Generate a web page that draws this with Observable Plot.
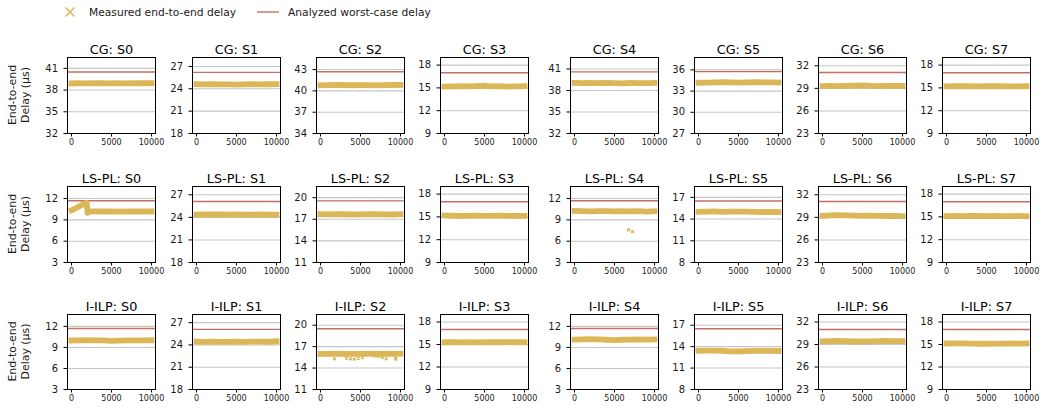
<!DOCTYPE html>
<html><head><meta charset="utf-8">
<script src="https://cdn.jsdelivr.net/npm/d3@7"></script>
<script src="https://cdn.jsdelivr.net/npm/@observablehq/plot@0.6"></script>
<style>
body{margin:0;background:#fff;font-family:"DejaVu Sans",sans-serif;}
#chart{position:relative;width:1056px;height:411px;overflow:hidden;background:#fff;}
.panel{position:absolute;}
.panel svg{background:transparent !important;overflow:visible;}
#overlay{position:absolute;left:0;top:0;}
</style></head><body><div id="chart"></div><script>
// ---- data ----
const methods = ["CG", "LS-PL", "I-ILP"];
const streams = ["S0", "S1", "S2", "S3", "S4", "S5", "S6", "S7"];
const iterations = [0, 1000, 2000, 3000, 4000, 5000, 6000, 7000, 8000, 9000, 10000];
const xTicks = [0, 5000, 10000];

const cgDelay = [
  [38.92,38.95,38.93,38.96,38.94,38.92,38.95,38.93,38.96,38.94,38.95],
  [24.62,24.60,24.63,24.58,24.60,24.57,24.60,24.62,24.59,24.61,24.63],
  [40.78,40.82,40.85,40.80,40.79,40.82,40.80,40.78,40.80,40.83,40.85],
  [15.18,15.20,15.22,15.20,15.24,15.28,15.20,15.22,15.18,15.20,15.22],
  [39.05,39.02,39.05,39.03,39.06,39.02,39.00,39.05,39.03,39.04,39.05],
  [34.18,34.20,34.22,34.25,34.22,34.20,34.24,34.26,34.24,34.22,34.20],
  [29.30,29.32,29.30,29.33,29.35,29.38,29.33,29.30,29.32,29.34,29.33],
  [15.20,15.22,15.24,15.22,15.20,15.22,15.24,15.22,15.20,15.20,15.22]
];
const lsplDelay = [
  null,
  [24.36,24.38,24.40,24.38,24.36,24.38,24.37,24.36,24.38,24.36,24.37],
  [17.72,17.68,17.70,17.70,17.66,17.68,17.70,17.72,17.68,17.66,17.70],
  [15.18,15.15,15.12,15.14,15.16,15.14,15.13,15.15,15.14,15.12,15.13],
  [10.25,10.22,10.20,10.22,10.24,10.20,10.22,10.20,10.22,10.15,10.22],
  [15.00,15.02,15.05,15.00,15.02,15.04,15.02,15.00,14.98,15.00,14.98],
  [29.20,29.25,29.30,29.25,29.22,29.20,29.22,29.20,29.18,29.20,29.15],
  [15.10,15.12,15.10,15.12,15.14,15.10,15.12,15.10,15.10,15.12,15.08]
];
// LS-PL S0 has a warm-up ramp before dropping
const lsplS0Iterations = [0, 300, 700, 1100, 1500, 1900, 2000, 2200, 2600, 3000, 4000, 5000, 6000, 7000, 8000, 9000, 10000];
const lsplS0Delay = [10.35, 10.5, 10.75, 11.0, 11.25, 11.4, 10.0, 10.15, 10.2, 10.2, 10.18, 10.2, 10.16, 10.18, 10.2, 10.18, 10.2];
const iilpDelay = [
  [10.00,10.02,10.05,10.02,10.00,9.95,9.98,10.00,10.02,10.00,10.02],
  [24.45,24.42,24.45,24.40,24.42,24.43,24.42,24.44,24.45,24.43,24.48],
  [15.98,16.00,16.02,16.00,15.98,16.00,16.02,16.00,16.02,16.00,16.02],
  [15.30,15.32,15.28,15.30,15.28,15.30,15.32,15.30,15.32,15.30,15.30],
  [10.12,10.15,10.18,10.15,10.10,10.05,10.10,10.12,10.15,10.12,10.15],
  [13.42,13.44,13.45,13.42,13.35,13.32,13.38,13.40,13.42,13.42,13.40],
  [29.42,29.45,29.48,29.45,29.42,29.40,29.42,29.45,29.48,29.45,29.45],
  [15.14,15.16,15.14,15.12,15.10,15.10,15.12,15.12,15.14,15.12,15.14]
];
// isolated measured samples
const lsplS4OutlierX = [6750, 7250];
const lsplS4OutlierY = [7.6, 7.35];
const iilpS2OutlierX = [1750, 3230, 3750, 4230, 4720, 5240, 6730, 7220, 7740, 8230, 9400, 9400];
const iilpS2OutlierY = [15.3, 15.4, 15.3, 15.25, 15.4, 15.45, 15.7, 15.65, 15.5, 15.3, 15.4, 15.25];

// analyzed worst-case delay
const cgWcd   = [40.5, 26.2, 42.7, 17.0, 40.6, 35.75, 31.1, 17.0];
const lsplWcd = [11.7, 26.1, 19.55, 17.0, 11.7, 16.5, 31.1, 17.0];
const iilpWcd = [11.7, 26.1, 19.5, 17.0, 11.7, 16.5, 31.0, 17.0];

// y tick labels (first of four ticks, step 3)
const cgTickStart   = [32, 18, 34, 9, 32, 27, 23, 9];
const lsplTickStart = [3, 18, 11, 9, 3, 8, 23, 9];
const iilpTickStart = [3, 18, 11, 9, 3, 8, 23, 9];
const tickSteps = [0, 3, 6, 9];

// ---- layout ----
const gold = "#dbb757";
const red = "#c4705f";
const frameLefts = [67, 192, 316, 440, 570, 694, 818, 942];
const frameTops = [57, 186, 314];
const frameW = 88, frameH = 76;
const mL = 32, mR = 6, mT = 24, mB = 24;

const rows = [
  {delay: cgDelay, wcd: cgWcd, ts: cgTickStart},
  {delay: lsplDelay, wcd: lsplWcd, ts: lsplTickStart},
  {delay: iilpDelay, wcd: iilpWcd, ts: iilpTickStart}
];

const chart = document.getElementById("chart");
const font = "DejaVu Sans";

rows.forEach((row, r) => {
  streams.forEach((s, c) => {
    let series;
    if (r === 1 && c === 0) series = lsplS0Iterations.map((x, i) => ({x, y: lsplS0Delay[i]}));
    else series = iterations.map((x, i) => ({x, y: row.delay[c][i]}));
    let outliers = [];
    if (r === 1 && c === 4) outliers = lsplS4OutlierX.map((x, i) => ({x, y: lsplS4OutlierY[i]}));
    if (r === 2 && c === 2) outliers = iilpS2OutlierX.map((x, i) => ({x, y: iilpS2OutlierY[i]}));
    const ticks = tickSteps.map(d => row.ts[c] + d);
    const wcd = row.wcd[c];
    const fh = r === 2 ? 75 : frameH;
    const p = Plot.plot({
      width: mL + frameW + mR, height: mT + fh + mB,
      marginLeft: mL, marginRight: mR, marginTop: mT, marginBottom: mB,
      style: {background: "transparent", fontFamily: font, color: "#1a1a1a", overflow: "visible"},
      x: {domain: [-500, 10500]},
      y: {domain: [row.ts[c], wcd + 2]},
      marks: [
        Plot.ruleY(ticks, {stroke: "#c6c6c6", strokeWidth: 1.1}),
        Plot.ruleY([wcd], {stroke: red, strokeWidth: 1.4}),
        Plot.line(series, {x: "x", y: "y", stroke: gold, strokeWidth: 5.8, strokeLinecap: "square", strokeLinejoin: "round"}),
        Plot.dot(outliers, {x: "x", y: "y", symbol: "times", r: 1.4, stroke: gold, strokeWidth: 1.3}),
        Plot.frame({stroke: "#000", strokeWidth: 1}),
        Plot.axisY(ticks, {tickSize: 3.5, tickPadding: 6, fontSize: 10, tickFormat: d => String(d), label: null, stroke: "#000"}),
        Plot.axisX(xTicks, {tickSize: 3.5, tickPadding: 2, fontSize: 8, tickFormat: d => String(d), label: null, stroke: "#000"}),
        Plot.text([`${methods[r]}: ${s}`], {frameAnchor: "top", lineAnchor: "bottom", dy: -4, fontSize: 12.8, fill: "#000"})
      ]
    });
    const div = document.createElement("div");
    div.className = "panel";
    div.style.left = (frameLefts[c] - mL) + "px";
    div.style.top = (frameTops[r] - mT) + "px";
    div.appendChild(p);
    chart.appendChild(div);
  });
});

// overlay: y labels and legend
const svg = d3.select(chart).append("svg").attr("id", "overlay")
  .attr("width", 1056).attr("height", 411)
  .style("font-family", font).style("pointer-events", "none");

frameTops.forEach((t, r) => {
  const cy = t + (r === 2 ? 37.5 : 38);
  const g = svg.append("g").attr("font-size", 10.9).attr("fill", "#1a1a1a").attr("text-anchor", "middle");
  g.append("text").attr("transform", `translate(12.7,${cy}) rotate(-90)`).attr("dominant-baseline", "central").text("End-to-end");
  g.append("text").attr("transform", `translate(25,${cy}) rotate(-90)`).attr("dominant-baseline", "central").text("Delay (μs)");
});

const lg = svg.append("g").attr("font-size", 10.7).attr("fill", "#1a1a1a");
lg.append("path").attr("d", "M65.5,7.5L74.5,16.5M74.5,7.5L65.5,16.5").attr("stroke", gold).attr("stroke-width", 1.6);
lg.append("text").attr("x", 89).attr("y", 12).attr("dominant-baseline", "central").text("Measured end-to-end delay");
lg.append("line").attr("x1", 257).attr("x2", 279).attr("y1", 12).attr("y2", 12).attr("stroke", red).attr("stroke-width", 1.4);
lg.append("text").attr("x", 288).attr("y", 12).attr("dominant-baseline", "central").text("Analyzed worst-case delay");
</script></body></html>
